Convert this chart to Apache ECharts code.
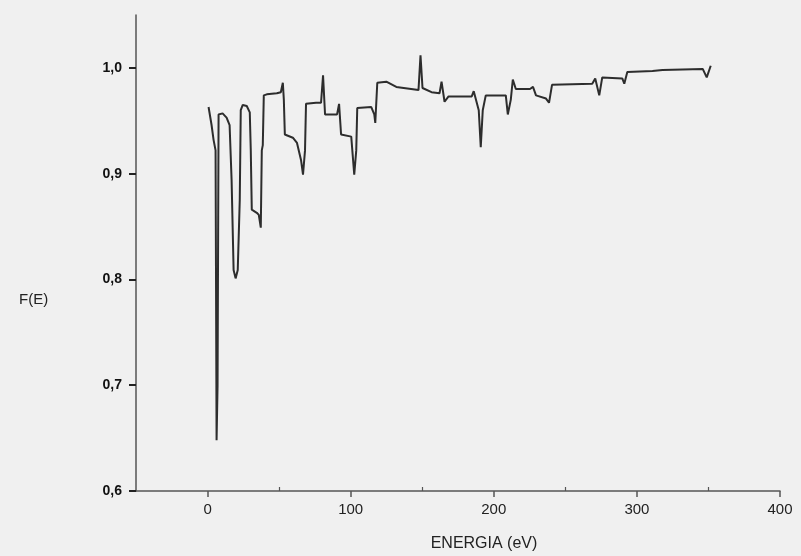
<!DOCTYPE html>
<html>
<head>
<meta charset="utf-8">
<script src="https://cdn.jsdelivr.net/npm/echarts@6/dist/echarts.min.js"></script>
<style>
  html, body { margin: 0; padding: 0; background: #f0f0f0; }
  #chart { width: 801px; height: 556px; }
</style>
</head>
<body>
<div id="chart"></div>
<script>
// energia (eV)
var energy = [0.7, 2.8, 4.2, 5.6, 6.3, 7.0, 7.7, 10.5, 13.3, 15.4, 16.8, 18.2, 19.6, 21.1, 22.5, 23.2,
  24.6, 27.4, 29.5, 30.2, 30.9, 34.4, 35.8, 37.2, 37.9, 38.6, 39.3, 41.4, 48.4, 51.2, 52.6, 53.3,
  54.0, 59.6, 62.5, 65.3, 66.7, 68.1, 68.8, 75.8, 79.3, 80.7, 82.1, 90.5, 91.9, 93.3, 100.4, 102.5,
  103.9, 104.6, 114.4, 116.5, 117.2, 118.6, 124.9, 131.9, 147.4, 148.8, 150.2, 156.5, 162.1, 163.5,
  165.6, 168.4, 184.6, 186.0, 189.5, 190.9, 192.3, 194.4, 208.4, 209.8, 211.9, 213.3, 215.4, 225.3,
  227.4, 229.5, 236.5, 238.6, 240.7, 268.8, 270.9, 273.7, 275.8, 289.8, 291.2, 293.3, 310.9, 317.9,
  346.0, 348.8, 351.6];
// F(E)
var fValues = [0.963, 0.946, 0.932, 0.922, 0.648, 0.700, 0.956, 0.957, 0.953, 0.946, 0.894, 0.809, 0.801, 0.809, 0.875, 0.960,
  0.965, 0.964, 0.958, 0.922, 0.866, 0.863, 0.861, 0.849, 0.922, 0.927, 0.974, 0.975, 0.976, 0.977, 0.986, 0.970,
  0.937, 0.934, 0.929, 0.913, 0.899, 0.922, 0.966, 0.967, 0.967, 0.993, 0.956, 0.956, 0.966, 0.937, 0.935, 0.899,
  0.922, 0.962, 0.963, 0.956, 0.948, 0.986, 0.987, 0.982, 0.979, 1.012, 0.981, 0.977, 0.976, 0.987,
  0.968, 0.973, 0.973, 0.978, 0.960, 0.925, 0.960, 0.974, 0.974, 0.956, 0.970, 0.989, 0.980, 0.980,
  0.982, 0.974, 0.971, 0.967, 0.984, 0.985, 0.990, 0.974, 0.991, 0.990, 0.985, 0.996, 0.997, 0.998,
  0.999, 0.991, 1.002];

var xMajorTicks = [0, 100, 200, 300, 400];
var xMinorTicks = [50, 150, 250, 350];
var yTicks = [0.6, 0.7, 0.8, 0.9, 1.0];

var chart = echarts.init(document.getElementById("chart"));

var points = [];
for (var i = 0; i < energy.length; i++) {
  points.push([energy[i], fValues[i]]);
}

var axisColor = "#555";
var textFont = "Liberation Sans";

var option = {
  backgroundColor: "#f0f0f0",
  animation: false,
  grid: {
    left: 136,
    right: 21,
    top: 15,
    bottom: 65,
    outerBoundsMode: "none"
  },
  // y axis title sits lower than the middle of the axis
  graphic: [
    {
      type: "text",
      left: 19,
      top: 292,
      style: {
        text: "F(E)",
        fill: "#222",
        font: "15px " + textFont
      }
    }
  ],
  xAxis: [
    {
      type: "value",
      min: -50,
      max: 400,
      splitLine: { show: false },
      axisLine: {
        onZero: false,
        lineStyle: { color: axisColor, width: 1.5 }
      },
      axisTick: {
        customValues: xMajorTicks,
        length: 6,
        lineStyle: { color: axisColor, width: 1.5 }
      },
      axisLabel: {
        customValues: xMajorTicks,
        color: "#222",
        fontFamily: textFont,
        fontSize: 15,
        margin: 11
      },
      name: "ENERGIA (eV)",
      nameLocation: "middle",
      nameGap: 45,
      nameTextStyle: {
        color: "#222",
        fontFamily: textFont,
        fontSize: 16,
        padding: [0, 0, 0, 52]
      }
    },
    {
      type: "value",
      position: "bottom",
      min: -50,
      max: 400,
      splitLine: { show: false },
      axisLine: { show: false },
      axisTick: {
        customValues: xMinorTicks,
        inside: true,
        length: 4,
        lineStyle: { color: axisColor, width: 1.2 }
      },
      axisLabel: { show: false }
    }
  ],
  yAxis: {
    type: "value",
    min: 0.6,
    max: 1.05,
    splitLine: { show: false },
    axisLine: {
      onZero: false,
      lineStyle: { color: axisColor, width: 1.5 }
    },
    axisTick: {
      customValues: yTicks,
      length: 7,
      lineStyle: { color: "#222", width: 2 }
    },
    axisLabel: {
      customValues: yTicks,
      color: "#111",
      fontFamily: textFont,
      fontSize: 14,
      fontWeight: "bold",
      margin: 14,
      formatter: function (v) {
        return v.toFixed(1).replace(".", ",");
      }
    }
  },
  series: [
    {
      type: "line",
      data: points,
      showSymbol: false,
      lineStyle: { color: "#2d2d2d", width: 2 }
    }
  ]
};

chart.setOption(option);
</script>
</body>
</html>
